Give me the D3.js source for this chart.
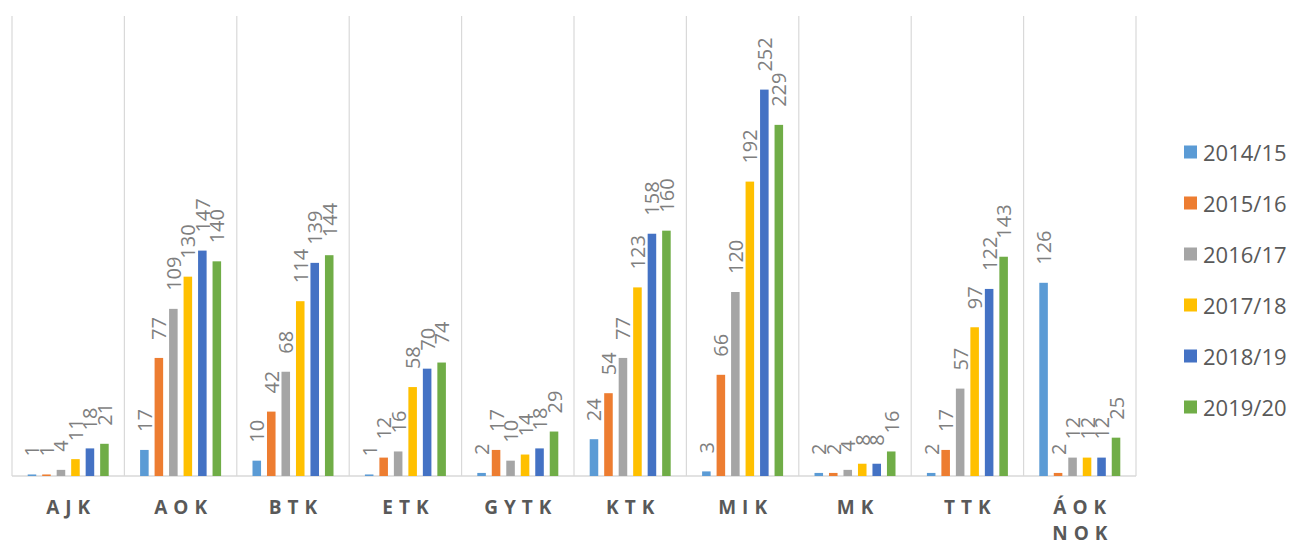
<!DOCTYPE html>
<html>
<head>
<meta charset="utf-8">
<script src="https://cdn.jsdelivr.net/npm/d3@7/dist/d3.min.js"></script>
<style>
  html, body { margin: 0; padding: 0; background: #fff; }
  svg { display: block; }
</style>
</head>
<body>
<svg id="chart" width="1298" height="545"></svg>
<script>
// ---- data ----
const categories = ["AJK", "AOK", "BTK", "ETK", "GYTK", "KTK", "MIK", "MK", "TTK", "ÁOK\nNOK"];
const seriesNames = ["2014/15", "2015/16", "2016/17", "2017/18", "2018/19", "2019/20"];
const s2014 = [1, 17, 10, 1, 2, 24, 3, 2, 2, 126];
const s2015 = [1, 77, 42, 12, 17, 54, 66, 2, 17, 2];
const s2016 = [4, 109, 68, 16, 10, 77, 120, 4, 57, 12];
const s2017 = [11, 130, 114, 58, 14, 123, 192, 8, 97, 12];
const s2018 = [18, 147, 139, 70, 18, 158, 252, 8, 122, 12];
const s2019 = [21, 140, 144, 74, 29, 160, 229, 16, 143, 25];
const seriesValues = [s2014, s2015, s2016, s2017, s2018, s2019];
const colors = ["#5B9BD5", "#ED7D31", "#A5A5A5", "#FFC000", "#4472C4", "#70AD47"];
const yMax = 300;

// ---- layout ----
const svg = d3.select("#chart");
const plot = { left: 12, right: 1136, top: 16, bottom: 476 };

const x0 = d3.scaleBand().domain(d3.range(categories.length))
  .range([plot.left, plot.right]).paddingInner(0).paddingOuter(0);
const groupW = 81;
const x1 = d3.scaleBand().domain(d3.range(seriesNames.length))
  .range([(x0.bandwidth() - groupW) / 2, (x0.bandwidth() + groupW) / 2]).paddingInner(0.41);
const y = d3.scaleLinear().domain([0, yMax]).range([plot.bottom, plot.top]);

// vertical category gridlines
const bounds = d3.range(categories.length + 1).map(i => i < categories.length ? x0(i) : x0(i - 1) + x0.bandwidth());
svg.append("g").selectAll("line").data(bounds).join("line")
  .attr("x1", d => d).attr("x2", d => d)
  .attr("y1", plot.top).attr("y2", plot.bottom)
  .attr("stroke", "#d9d9d9").attr("stroke-width", 1.2);

// baseline
svg.append("line")
  .attr("x1", plot.left).attr("x2", plot.right)
  .attr("y1", plot.bottom).attr("y2", plot.bottom)
  .attr("stroke", "#d9d9d9").attr("stroke-width", 1.5);

// bars + labels
const groups = svg.append("g").selectAll("g").data(categories).join("g")
  .attr("transform", (d, i) => `translate(${x0(i)},0)`);

groups.each(function(cat, ci) {
  const g = d3.select(this);
  const vals = seriesValues.map((s, si) => ({ si, v: s[ci] }));
  g.selectAll("rect").data(vals).join("rect")
    .attr("x", d => x1(d.si))
    .attr("width", x1.bandwidth())
    .attr("y", d => y(d.v))
    .attr("height", d => y(0) - y(d.v))
    .attr("fill", d => colors[d.si]);
  g.selectAll("text.lbl").data(vals).join("text")
    .attr("class", "lbl")
    .attr("transform", d => `translate(${x1(d.si) + x1.bandwidth() / 2},${y(d.v) - 18}) rotate(-90)`)
    .attr("text-anchor", "start")
    .attr("dominant-baseline", "central")
    .attr("font-family", "'Open Sans', sans-serif")
    .attr("font-size", 20)
    .attr("fill", "#7f7f7f")
    .text(d => d.v);
});

// category labels
const catG = svg.append("g");
categories.forEach((c, i) => {
  const lines = c.split("\n");
  const cx = x0(i) + x0.bandwidth() / 2 + 3;
  const t = catG.append("text")
    .attr("x", cx)
    .attr("y", 514)
    .attr("text-anchor", "middle")
    .attr("font-family", "'Open Sans', sans-serif")
    .attr("font-weight", "bold")
    .attr("font-size", 19)
    .attr("letter-spacing", 6)
    .attr("fill", "#595959");
  lines.forEach((ln, li) => {
    t.append("tspan")
      .attr("x", cx)
      .attr("dy", li === 0 ? 0 : 26)
      .text(ln);
  });
});

// legend
const legend = svg.append("g").attr("transform", "translate(1184,152)");
const lg = legend.selectAll("g").data(seriesNames).join("g")
  .attr("transform", (d, i) => `translate(0,${i * 51})`);
lg.append("rect").attr("x", 0).attr("y", -6.5).attr("width", 13).attr("height", 13)
  .attr("fill", (d, i) => colors[i]);
lg.append("text").attr("x", 19).attr("y", 0)
  .attr("dominant-baseline", "central")
  .attr("font-family", "'Open Sans', sans-serif")
  .attr("font-size", 22)
  .attr("fill", "#595959")
  .text(d => d);
</script>
</body>
</html>
